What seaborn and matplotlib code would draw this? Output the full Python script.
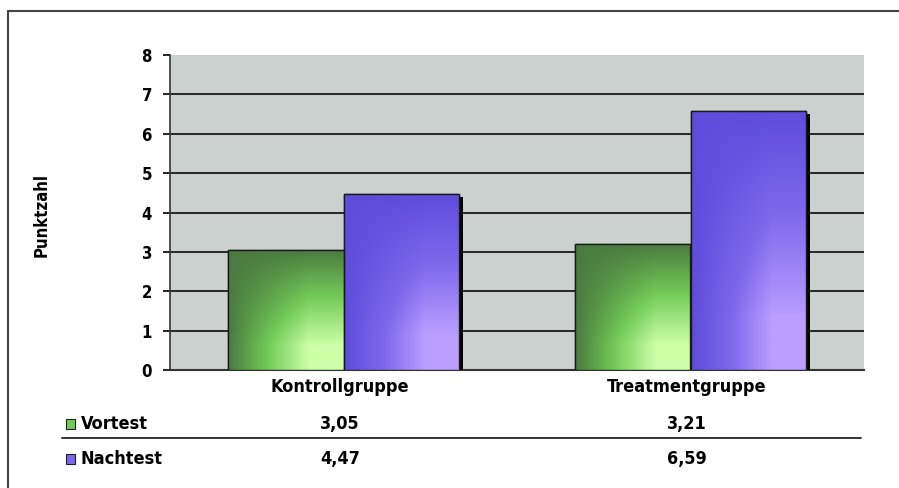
import numpy as np
import pandas as pd
import matplotlib
matplotlib.use("Agg")
import matplotlib.pyplot as plt
import matplotlib.patheffects as pe
import matplotlib.transforms as mtransforms
from matplotlib.lines import Line2D
from matplotlib.patches import Rectangle
from matplotlib import font_manager
import seaborn as sns

# --- data -------------------------------------------------------------
groups = ["Kontrollgruppe", "Treatmentgruppe"]
series = ["Vortest", "Nachtest"]
vortest = [3.05, 3.21]
nachtest = [4.47, 6.59]
value_labels = {"Vortest": ["3,05", "3,21"], "Nachtest": ["4,47", "6,59"]}
y_ticks = [0, 1, 2, 3, 4, 5, 6, 7, 8]
y_title = "Punktzahl"

# --- style ------------------------------------------------------------
sns.set_theme(style="white")
available = {f.name for f in font_manager.fontManager.ttflist}
narrow = [n for n in ("Liberation Sans Narrow", "DejaVu Sans Condensed") if n in available]
family = narrow[0] if narrow else "DejaVu Sans"
plt.rcParams["font.family"] = [family, "DejaVu Sans"]
plt.rcParams["text.color"] = "black"
plt.rcParams["font.stretch"] = "condensed"
TXT = dict(fontsize=13, fontweight="bold", color="black", fontstretch="condensed")
TICK = dict(TXT, fontsize=12)

series_colors = {"Vortest": "#6cc050", "Nachtest": "#7a5ff0"}
grad_stops = {
    "Vortest": ("#4a7a40", "#74cc58", "#ccffa8"),
    "Nachtest": ("#5f4cdc", "#7e68ec", "#b99eff"),
}

df = pd.DataFrame({
    "Gruppe": groups * 2,
    "Test": [series[0]] * len(groups) + [series[1]] * len(groups),
    "Punktzahl": vortest + nachtest,
})

fig = plt.figure(figsize=(8.99, 4.88), dpi=100)
ax = fig.add_axes([170 / 899, 1 - 370 / 488, 694 / 899, 315 / 488])
ax.set_facecolor("#cad1ce")

sns.barplot(data=df, x="Gruppe", y="Punktzahl", hue="Test", hue_order=series,
            order=groups, palette=series_colors, saturation=1, width=0.667, gap=0,
            edgecolor="#1a1a1a", linewidth=1.0, legend=False, ax=ax, zorder=3)

ax.set_ylim(0, 8)
ax.set_xlim(-0.5, len(groups) - 0.5)
ax.set_yticks(y_ticks)
ax.set_yticklabels([str(t) for t in y_ticks], **TICK)
ax.set_xticks([])
ax.set_xlabel("")
ax.set_ylabel("")

# horizontal grid lines at the inner ticks
for t in y_ticks[1:-1]:
    ax.axhline(t, color="#1a1a1a", lw=1.3, zorder=1)

ax.tick_params(axis="y", left=True, length=5, width=1.2, color="black", pad=8)
for side in ("top", "right"):
    ax.spines[side].set_visible(False)
ax.spines["left"].set_color("#333333")
ax.spines["left"].set_linewidth(1.2)
ax.spines["bottom"].set_color("#333333")
ax.spines["bottom"].set_linewidth(1.5)


def hex_rgb(h):
    return np.array(matplotlib.colors.to_rgb(h))


def shaded(dark, mid, light, n=120):
    u = np.linspace(0, 1, n)[None, :]          # left -> right
    v = np.linspace(1, 0, n)[:, None]          # top row first
    hx = np.clip(u / 0.7, 0, 1)
    vy = np.clip((1 - v) / 0.8, 0, 1)
    b = hx * vy
    d, m, l = hex_rgb(dark), hex_rgb(mid), hex_rgb(light)
    lo = np.clip(b * 2, 0, 1)[..., None]
    hi = np.clip(b * 2 - 1, 0, 1)[..., None]
    img = d + (m - d) * lo
    img = img + (l - m) * hi
    return np.clip(img, 0, 1)


# seaborn adds the bars hue level by hue level, in group order
bars = [p for p in ax.patches if isinstance(p, Rectangle)][:len(series) * len(groups)]
for k, p in enumerate(bars):
    name = series[k // len(groups)]
    p.set_path_effects([pe.SimplePatchShadow(offset=(3, -2.5), shadow_rgbFace="black", alpha=1.0),
                        pe.Normal()])
    x0, y0, w, h = p.get_x(), p.get_y(), p.get_width(), p.get_height()
    im = ax.imshow(shaded(*grad_stops[name]), extent=[x0, x0 + w, y0, y0 + h],
                   aspect="auto", interpolation="bilinear", zorder=3.5)
    im.set_clip_path(p)
    edge = Rectangle((x0, y0), w, h, fill=False, edgecolor="#1a1a1a", lw=1.0, zorder=4)
    ax.add_patch(edge)

ax.set_xlim(-0.5, len(groups) - 0.5)
ax.set_ylim(0, 8)

# y title
fig.text(42 / 899, 1 - 215 / 488, y_title, rotation=90, ha="center", va="center", **TICK)

# data table under the axis
tr = mtransforms.blended_transform_factory(ax.transData, fig.transFigure)
for i, g in enumerate(groups):
    fig.text(i - 0.01, 1 - 387 / 488, g, transform=tr, ha="center", va="center", **TXT)

row_y = {"Vortest": 1 - 424 / 488, "Nachtest": 1 - 459 / 488}
for name in series:
    y = row_y[name]
    fig.patches.append(Rectangle((66 / 899, y - 5 / 488), 9 / 899, 10 / 488,
                                 transform=fig.transFigure, facecolor=grad_stops[name][1],
                                 edgecolor="#222222", lw=0.8))
    fig.text(81 / 899, y, name, ha="left", va="center", **TXT)
    for i, lab in enumerate(value_labels[name]):
        fig.text(i - 0.01, y, lab, transform=tr, ha="center", va="center", **TXT)

fig.add_artist(Line2D([62 / 899, 861 / 899], [1 - 438 / 488] * 2,
                      transform=fig.transFigure, color="#222222", lw=1.3))

# outer frame (top and left edges)
fig.add_artist(Line2D([8 / 899, 1.0], [1 - 11 / 488] * 2, transform=fig.transFigure,
                      color="#444444", lw=1.5))
fig.add_artist(Line2D([8 / 899, 8 / 899], [1 - 11 / 488, 0.0], transform=fig.transFigure,
                      color="#444444", lw=1.5))

fig.savefig("out.png", dpi=100)
